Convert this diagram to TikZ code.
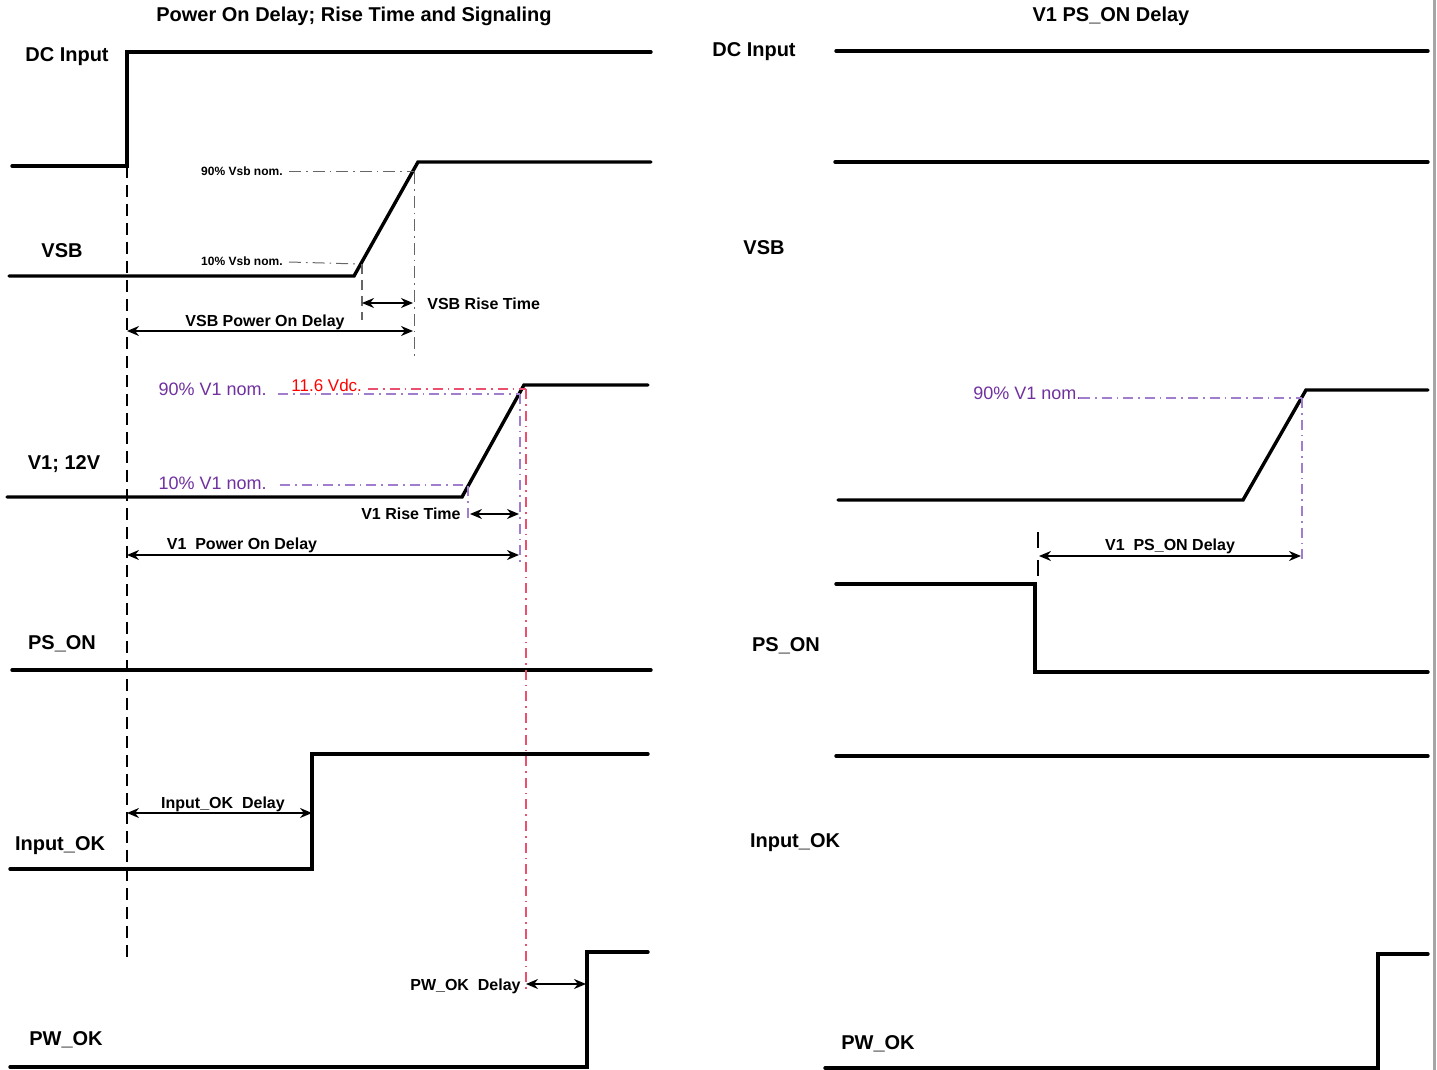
\documentclass[tikz,border=0pt]{standalone}
\usepackage{fontspec}
\setmainfont{Liberation Sans}
\usetikzlibrary{arrows.meta, positioning}
\definecolor{vio}{RGB}{112,48,160}
\definecolor{violine}{RGB}{160,125,205}
\definecolor{redline}{RGB}{235,80,110}
\tikzstyle{signal} = [line width=1.7pt, line join=miter, line cap=round]
\tikzstyle{marker} = [line width=1pt, dash pattern=on 6pt off 3.5pt]
\tikzstyle{guide} = [gray!80!black, line width=0.5pt, dash pattern=on 6pt off 2.5pt on 0.8pt off 2.5pt]
\tikzstyle{guidedash} = [gray!80!black, line width=0.6pt, dash pattern=on 5pt off 3pt]
\tikzstyle{vioguide} = [violine, line width=0.6pt, dash pattern=on 5pt off 2.5pt on 0.8pt off 2.5pt]
\tikzstyle{redguide} = [redline, line width=0.6pt, dash pattern=on 5pt off 2.5pt on 0.8pt off 2.5pt]
\tikzstyle{span} = [line width=0.7pt, {Stealth[length=6pt,width=5pt]}-{Stealth[length=6pt,width=5pt]}]
\tikzstyle{signame} = [font=\bfseries\fontsize{10}{12}\selectfont, anchor=base, inner sep=0pt]
\tikzstyle{spanlabel} = [font=\bfseries\fontsize{8}{10}\selectfont, anchor=base, inner sep=0pt]
\tikzstyle{tinylabel} = [font=\bfseries\fontsize{6}{7}\selectfont, anchor=base east, inner sep=0pt]
\tikzstyle{nomlabel} = [text=vio, font=\fontsize{9}{11}\selectfont, anchor=base east, inner sep=0pt]

\begin{document}
\begin{tikzpicture}[x=0.5pt, y=-0.5pt]
	\useasboundingbox (0,0) rectangle (1437,1070);
	\draw[gray!70, line width=1.5pt] (1434,0) -- (1434,1070);

	% left panel
	\node[signame] (titleL) at (354,22) {Power On Delay; Rise Time and Signaling};
	\node[signame] (dcL) at (67,62) {DC Input};
	\node[signame] (vsbL) at (62,257) {VSB};
	\node[signame] (v1L) at (64,469) {V1; 12V};
	\node[signame] (psonL) at (62,649) {PS\_ON};
	\node[signame] (inokL) at (60,850) {Input\_OK};
	\node[signame] (pwokL) at (66,1045) {PW\_OK};

	\coordinate (t0) at (127,166);
	\coordinate (vsbLow) at (358,264);
	\coordinate (vsbHigh) at (414,172);
	\coordinate (v1Low) at (468,486);
	\coordinate (v1High) at (520,394);
	\coordinate (v1Red) at (526,389);
	\coordinate (inokEdge) at (312,813);
	\coordinate (pwokEdge) at (586,984);

	\draw[signal] (12,166) -- (127,166) -- (127,52) -- (651,52);
	\draw[signal] (9,276) -- (354,276) -- (418,162) -- (651,162);
	\draw[signal] (7,497) -- (462,497) -- (524,385) -- (648,385);
	\draw[signal] (12,670) -- (651,670);
	\draw[signal] (10,869) -- (312,869) -- (312,754) -- (648,754);
	\draw[signal] (10,1067) -- (587,1067) -- (587,952) -- (648,952);
	\draw[marker] (t0) -- (127,960);

	% VSB rise
	\node[tinylabel] (vsb90) at (283,176) {90\% Vsb nom.};
	\node[tinylabel] (vsb10) at (283,265) {10\% Vsb nom.};
	\draw[guide] (289,172) -- (vsbHigh);
	\draw[guide] (289,262) -- (vsbLow);
	\draw[guidedash] (362,264) -- (362,320);
	\draw[guide] (vsbHigh) -- (414,360);
	\draw[span] (362,303) -- (413,303);
	\node[spanlabel, anchor=base west] (vsbRise) at (427,309) {VSB Rise Time};
	\draw[span] (127,331) -- (413,331);
	\node[spanlabel] (vsbDelay) at (265,327) {VSB Power On Delay};

	% V1 rise
	\node[nomlabel] (v190) at (267,395) {90\% V1 nom.};
	\node[nomlabel] (v110) at (267,489) {10\% V1 nom.};
	\node[text=red, font=\fontsize{8.5}{10}\selectfont, anchor=base west, inner sep=0pt] (vdc) at (291,391) {11.6 Vdc.};
	\draw[vioguide] (278,394) -- (v1High);
	\draw[vioguide] (280,485) -- (466,485);
	\draw[redguide] (368,389) -- (v1Red);
	\draw[vioguide] (v1Low) -- (468,522);
	\draw[vioguide] (v1High) -- (520,562);
	\draw[redguide] (v1Red) -- (526,992);
	\draw[span] (470,514) -- (519,514);
	\node[spanlabel, anchor=base east] (v1Rise) at (461,519) {V1 Rise Time};
	\draw[span] (127,555) -- (519,555);
	\node[spanlabel] (v1Delay) at (242,549) {V1~ Power On Delay};

	\draw[span] (127,813) -- (inokEdge);
	\node[spanlabel] (inokDelay) at (223,808) {Input\_OK~ Delay};
	\draw[span] (526,984) -- (pwokEdge);
	\node[spanlabel, anchor=base east] (pwokDelay) at (521,990) {PW\_OK~ Delay};

	% right panel
	\node[signame] (titleR) at (1111,22) {V1 PS\_ON Delay};
	\node[signame] (dcR) at (754,57) {DC Input};
	\node[signame] (vsbR) at (764,255) {VSB};
	\node[signame] (psonR) at (786,651) {PS\_ON};
	\node[signame] (inokR) at (795,847) {Input\_OK};
	\node[signame] (pwokR) at (878,1049) {PW\_OK};

	\coordinate (psonEdge) at (1039,556);
	\coordinate (v1HighR) at (1302,398);

	\draw[signal] (836,51) -- (1428,51);
	\draw[signal] (835,162) -- (1428,162);
	\draw[signal] (838,500) -- (1243,500) -- (1306,390) -- (1428,390);
	\draw[signal] (836,584) -- (1035,584) -- (1035,672) -- (1428,672);
	\draw[signal] (836,756) -- (1428,756);
	\draw[signal] (825,1068) -- (1378,1068) -- (1378,954) -- (1428,954);

	\node[nomlabel, anchor=base west] (v190R) at (973,400) {90\% V1 nom.};
	\draw[vioguide] (1080,398) -- (v1HighR);
	\draw[vioguide] (v1HighR) -- (1302,562);
	\draw[marker, dash pattern=on 8pt off 6pt] (1038,532) -- (1038,580);
	\draw[span] (psonEdge) -- (1301,556);
	\node[spanlabel] (psonDelay) at (1170,550) {V1~ PS\_ON Delay};
\end{tikzpicture}
\end{document}
